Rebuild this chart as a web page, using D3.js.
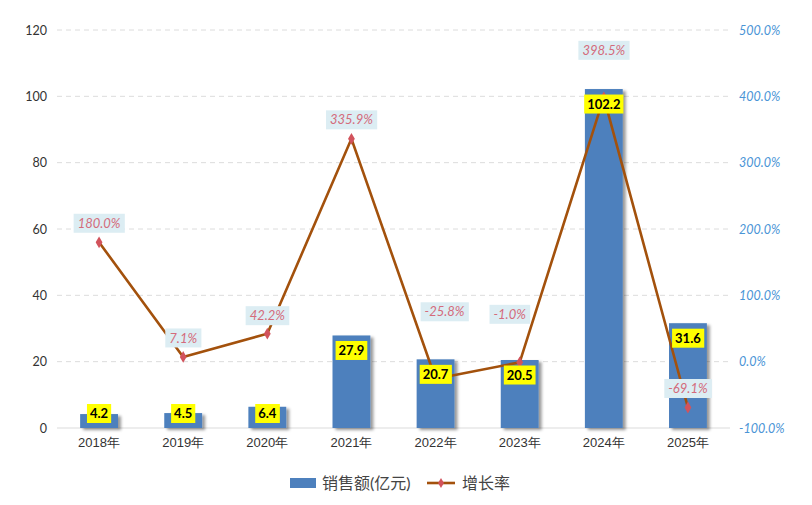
<!DOCTYPE html>
<html><head><meta charset="utf-8">
<script src="https://cdn.jsdelivr.net/npm/d3@7"></script>
<style>
html,body{margin:0;padding:0;background:#fff;}
svg{display:block;font-family:Lato,"Noto Sans CJK SC",sans-serif;}
</style></head>
<body><svg id="c" width="812" height="505"></svg>
<script>
const categories = ["2018年","2019年","2020年","2021年","2022年","2023年","2024年","2025年"];
const sales = [4.2, 4.5, 6.4, 27.9, 20.7, 20.5, 102.2, 31.6];
const growth = [180.0, 7.1, 42.2, 335.9, -25.8, -1.0, 398.5, -69.1];
const leftTicks = [0, 20, 40, 60, 80, 100, 120];
const rightTicks = [-100, 0, 100, 200, 300, 400, 500];
const seriesNames = ["销售额(亿元)", "增长率"];

const svg = d3.select("#c");
const m = {l:57, r:82, t:30, b:77};
const W = 812, H = 505;
const x = d3.scaleBand().domain(categories).range([m.l, W - m.r]).paddingInner(0.55).paddingOuter(0.275);
const xc = d => x(d) + x.bandwidth()/2;
const yL = d3.scaleLinear().domain([0, 120]).range([H - m.b, m.t]);
const yR = d3.scaleLinear().domain([-100, 500]).range([H - m.b, m.t]);

const defs = svg.append("defs");
const f = defs.append("filter").attr("id","sh").attr("x","-20%").attr("y","-20%").attr("width","150%").attr("height","150%");
f.append("feDropShadow").attr("dx",3).attr("dy",2).attr("stdDeviation",1.8).attr("flood-color","#000").attr("flood-opacity",0.4);

// grid
const grid = svg.append("g");
grid.selectAll("line").data(leftTicks.filter(d => d > 0)).join("line")
  .attr("x1", m.l).attr("x2", W - m.r)
  .attr("y1", d => yL(d)).attr("y2", d => yL(d))
  .attr("stroke", "#dcdcdc").attr("stroke-width", 1).attr("stroke-dasharray", "5,4");
grid.append("line").attr("x1", m.l).attr("x2", W - m.r).attr("y1", yL(0)).attr("y2", yL(0))
  .attr("stroke", "#dcdcdc").attr("stroke-width", 1.2);

// left axis
const axL = d3.axisLeft(yL).tickValues(leftTicks).tickSize(0).tickPadding(10);
const gL = svg.append("g").attr("transform", `translate(${m.l},0)`).call(axL);
gL.select(".domain").remove();
gL.selectAll("text").attr("font-size", 12.5).attr("fill", "#333").attr("font-family", "Lato,sans-serif");

// right axis
const axR = d3.axisRight(yR).tickValues(rightTicks).tickSize(0).tickPadding(9).tickFormat(d => d.toFixed(1) + "%");
const gR = svg.append("g").attr("transform", `translate(${W - m.r},0)`).call(axR);
gR.select(".domain").remove();
gR.selectAll("text").attr("font-size", 12.5).attr("fill", "#4a94d6").attr("font-style", "italic").attr("font-family", "Lato,sans-serif");

// x axis
const axX = d3.axisBottom(x).tickSize(0).tickPadding(10);
const gX = svg.append("g").attr("transform", `translate(0,${H - m.b})`).call(axX);
gX.select(".domain").remove();
gX.selectAll("text").attr("font-size", 13).attr("fill", "#333");

// bars
svg.append("g").selectAll("rect").data(sales).join("rect")
  .attr("x", (d,i) => x(categories[i])).attr("width", x.bandwidth())
  .attr("y", d => yL(d)).attr("height", d => yL(0) - yL(d))
  .attr("fill", "#4d80bd").attr("filter", "url(#sh)");

// line
const line = d3.line().x((d,i) => xc(categories[i])).y(d => yR(d));
svg.append("path").datum(growth).attr("d", line).attr("fill", "none")
  .attr("stroke", "#a3510c").attr("stroke-width", 2.6).attr("stroke-linejoin", "miter");
const diamond = d3.symbol().type(d3.symbolDiamond).size(40);
svg.append("g").selectAll("path").data(growth).join("path")
  .attr("d", diamond)
  .attr("transform", (d,i) => `translate(${xc(categories[i])},${yR(d)})`)
  .attr("fill", "#d2535c");

// growth labels
const gDy = [-19, -19, -18, -19, -67, -48, -47, -19];
const gDx = [0, 0, 0, 0, 9, -10, 0, 0];
const gl = svg.append("g").selectAll("g").data(growth).join("g")
  .attr("transform", (d,i) => `translate(${xc(categories[i]) + gDx[i]},${yR(d) + gDy[i]})`);
gl.append("text").text(d => d.toFixed(1) + "%")
  .attr("text-anchor", "middle").attr("dy", "0.35em")
  .attr("font-size", 13).attr("font-style", "italic").attr("fill", "#d46b7b")
  .attr("font-family", "Lato,sans-serif");
gl.each(function(){
  const g = d3.select(this), bb = g.select("text").node().getBBox();
  g.insert("rect", "text").attr("x", bb.x - 4).attr("y", -9.5).attr("width", bb.width + 8).attr("height", 19)
    .attr("fill", "#dcedf3");
});

// value labels
const vl = svg.append("g").selectAll("g").data(sales).join("g")
  .attr("transform", (d,i) => `translate(${xc(categories[i])},${Math.min(yL(d) + 15, yL(0) - 14.5)})`);
vl.append("text").text(d => d.toFixed(1))
  .attr("text-anchor", "middle").attr("dy", "0.36em")
  .attr("font-size", 13).attr("font-weight", "bold").attr("fill", "#000")
  .attr("font-family", "Lato,sans-serif");
vl.each(function(){
  const g = d3.select(this), bb = g.select("text").node().getBBox();
  g.insert("rect", "text").attr("x", bb.x - 3).attr("y", -9.5).attr("width", bb.width + 6).attr("height", 19)
    .attr("fill", "#ffff00");
});

// legend
const lg = svg.append("g").attr("transform", `translate(0,483)`);
lg.append("rect").attr("x", 290).attr("y", -5).attr("width", 26).attr("height", 10).attr("fill", "#4d80bd");
lg.append("text").attr("x", 322).attr("dy", "0.36em").text(seriesNames[0]).attr("font-size", 16).attr("fill", "#444");
lg.append("line").attr("x1", 427).attr("x2", 455).attr("y1", 0).attr("y2", 0).attr("stroke", "#a3510c").attr("stroke-width", 2.6);
lg.append("path").attr("d", d3.symbol().type(d3.symbolDiamond).size(30)).attr("transform", "translate(441,0)").attr("fill", "#d2535c");
lg.append("text").attr("x", 462).attr("dy", "0.36em").text(seriesNames[1]).attr("font-size", 16).attr("fill", "#444");
</script></body></html>
